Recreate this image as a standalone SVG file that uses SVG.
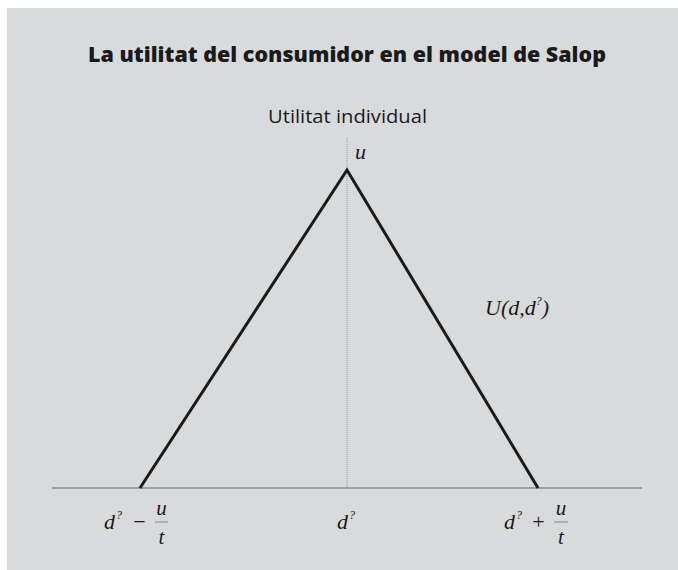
<svg xmlns="http://www.w3.org/2000/svg" width="678" height="570" viewBox="0 0 678 570">
<style>
.title{font-family:"Open Sans","Liberation Sans",sans-serif;font-weight:800;font-size:21px;fill:#1a1a1a}
.sans{font-family:"Open Sans","Liberation Sans",sans-serif;font-size:19px;fill:#1a1a1a}
.m{font-family:"Liberation Serif",serif;font-style:italic;font-size:22px;fill:#1a1a1a}
.mu{font-family:"Liberation Serif",serif;font-style:italic;font-size:21px;fill:#1a1a1a}
.sup{font-family:"Liberation Serif",serif;font-style:italic;font-size:12px;fill:#1a1a1a}
.op{font-family:"Liberation Serif",serif;font-size:22px;fill:#1a1a1a}
.bar{stroke:#777;stroke-width:0.8}
</style>
<rect x="0" y="0" width="678" height="570" fill="#ffffff"/>
<rect x="7" y="8" width="671" height="562" fill="#d9dadc"/>
<text class="title" x="347" y="62" text-anchor="middle" textLength="518" lengthAdjust="spacingAndGlyphs">La utilitat del consumidor en el model de Salop</text>
<text class="sans" x="347.5" y="123" text-anchor="middle" textLength="159" lengthAdjust="spacingAndGlyphs">Utilitat individual</text>
<g id="axes">
<line x1="52" y1="488" x2="642" y2="488" stroke="#8a8a8a" stroke-width="1.3"/>
<line x1="347" y1="138" x2="347" y2="488" stroke="#8a8a8a" stroke-width="0.8" stroke-dasharray="1,1"/>
</g>
<g id="connectors">
<polyline points="140,488 347,170 538,488" fill="none" stroke="#1a1a1a" stroke-width="3" stroke-linejoin="miter"/>
</g>
<g id="label-u"><text class="m" x="355" y="159">u</text></g>
<g id="label-U">
<text class="m" x="485" y="315">U(d,d<tspan class="sup" dy="-10">?</tspan><tspan dy="10">)</tspan></text>
</g>
<g id="label-left">
<text class="m" x="104" y="529">d</text>
<text class="sup" x="116" y="519">?</text>
<text class="op" x="139.5" y="529" text-anchor="middle">−</text>
<text class="mu" x="161.5" y="515" text-anchor="middle">u</text>
<line class="bar" x1="155" y1="522" x2="168" y2="522"/>
<text class="mu" x="161.5" y="544" text-anchor="middle">t</text>
</g>
<g id="label-mid">
<text class="m" x="337" y="529">d</text>
<text class="sup" x="349" y="519">?</text>
</g>
<g id="label-right">
<text class="m" x="504" y="529">d</text>
<text class="sup" x="516" y="519">?</text>
<text class="op" x="538.5" y="529" text-anchor="middle">+</text>
<text class="mu" x="561" y="515" text-anchor="middle">u</text>
<line class="bar" x1="554" y1="522" x2="568" y2="522"/>
<text class="mu" x="561" y="544" text-anchor="middle">t</text>
</g>
</svg>
